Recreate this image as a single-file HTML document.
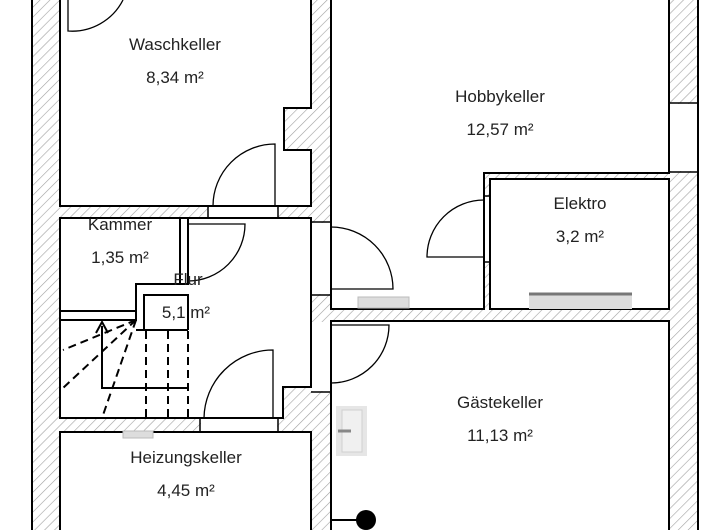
<!DOCTYPE html>
<html><head><meta charset="utf-8"><style>
html,body{margin:0;padding:0;background:#fff;}
svg{display:block;}
text{font-family:"Liberation Sans",sans-serif;font-size:17px;fill:#222;text-anchor:middle;}
</style></head><body>
<svg width="720" height="530" viewBox="0 0 720 530" xmlns="http://www.w3.org/2000/svg">
<defs>
<pattern id="h" width="7" height="7" patternUnits="userSpaceOnUse" patternTransform="rotate(45)">
<rect width="7" height="7" fill="#fff"/>
<line x1="0" y1="0" x2="0" y2="7" stroke="#a0a0a0" stroke-width="1.2"/>
</pattern>
</defs>
<rect x="32" y="-2" width="666" height="534" fill="url(#h)" stroke="#000" stroke-width="2"/>
<g fill="#fff" stroke="#000" stroke-width="2">
<polygon points="60,-3 311,-3 311,108 284,108 284,150 311,150 311,206 60,206"/>
<polygon points="331,-3 669,-3 669,173 484,173 484,309 331,309"/>
<rect x="490" y="179" width="179" height="130"/>
<rect x="60" y="218" width="120" height="93"/>
<rect x="180" y="218" width="8" height="66"/>
<polygon points="188,218 311,218 311,387 283,387 283,418 60,418 60,320 136,320 136,284 188,284"/>
<rect x="60" y="432" width="251" height="100"/>
<rect x="331" y="321" width="338" height="211"/>
</g>
<g fill="#fff" stroke="none">
<rect x="699" y="0" width="21" height="530"/>
<rect x="0" y="0" width="31" height="530"/>
</g>
<line x1="698" y1="0" x2="698" y2="530" stroke="#000" stroke-width="2"/>
<!-- openings -->
<g fill="#fff" stroke="none">
<rect x="209" y="207" width="68" height="10"/>
<rect x="312" y="223" width="18" height="71"/>
<rect x="312" y="322" width="18" height="69"/>
<rect x="201" y="419" width="76" height="12"/>
<rect x="485" y="197" width="4" height="64"/>
<rect x="670" y="104" width="27" height="67"/>
</g>
<g stroke="#000" stroke-width="1.5">
<line x1="208" y1="206" x2="208" y2="218"/><line x1="278" y1="206" x2="278" y2="218"/>
<line x1="311" y1="222" x2="331" y2="222"/><line x1="311" y1="295" x2="331" y2="295"/>
<line x1="311" y1="392" x2="331" y2="392"/>
<line x1="200" y1="418" x2="200" y2="432"/><line x1="278" y1="418" x2="278" y2="432"/>
<line x1="484" y1="196" x2="490" y2="196"/><line x1="484" y1="262" x2="490" y2="262"/>
<line x1="669" y1="103" x2="698" y2="103"/><line x1="669" y1="172" x2="698" y2="172"/>
</g>
<!-- doors -->
<g fill="none" stroke="#000" stroke-width="1.3">
<path d="M68,0 L68,31 A57,57 0 0 0 123,0"/>
<path d="M275,206 L275,144 A62,62 0 0 0 213,206"/>
<path d="M188,224 L245,224 A57,57 0 0 1 188,281"/>
<path d="M331,289 L393,289 A62,62 0 0 0 331,227"/>
<path d="M484,257 L427,257 A57,57 0 0 1 484,200"/>
<path d="M331,325 L389,325 A58,58 0 0 1 331,383"/>
<path d="M273,418 L273,350 A69,69 0 0 0 204,418"/>
</g>
<!-- stairs -->
<g fill="none" stroke="#000" stroke-width="2">
<rect x="60" y="311" width="76" height="9" fill="#fff"/>
<polyline points="144,330 144,295 188,295 188,330"/>
<line x1="136" y1="330" x2="188" y2="330"/>
<polyline points="102,326 102,388 189,388"/>
<polyline points="96,333 102,322 108,333"/>
</g>
<g stroke="#000" stroke-width="2" stroke-dasharray="8,5" fill="none">
<line x1="136" y1="320" x2="63" y2="350"/>
<line x1="136" y1="320" x2="63" y2="388"/>
<line x1="136" y1="320" x2="102" y2="418"/>
<line x1="146" y1="331" x2="146" y2="418"/>
<line x1="168" y1="331" x2="168" y2="418"/>
<line x1="188" y1="331" x2="188" y2="418"/>
</g>
<!-- fixtures -->
<rect x="358" y="297" width="51" height="11" fill="#ddd" stroke="#bbb" stroke-width="1"/>
<rect x="123" y="431" width="30" height="7" fill="#ddd" stroke="#bbb" stroke-width="1"/>
<rect x="529" y="294" width="103" height="15" fill="#ddd"/>
<line x1="529" y1="294" x2="632" y2="294" stroke="#777" stroke-width="3"/>
<rect x="336" y="406" width="31" height="50" fill="#e6e6e6"/>
<rect x="342" y="410" width="20" height="42" fill="#f0f0f0" stroke="#d0d0d0"/>
<line x1="338" y1="431" x2="351" y2="431" stroke="#888" stroke-width="3"/>
<line x1="331" y1="520" x2="360" y2="520" stroke="#000" stroke-width="2"/>
<circle cx="366" cy="520" r="10" fill="#000"/>
<!-- labels -->
<text x="175" y="50">Waschkeller</text><text x="175" y="83">8,34 m²</text>
<text x="500" y="102">Hobbykeller</text><text x="500" y="135">12,57 m²</text>
<text x="580" y="209">Elektro</text><text x="580" y="242">3,2 m²</text>
<text x="120" y="230">Kammer</text><text x="120" y="263">1,35 m²</text>
<text x="188" y="285">Flur</text><text x="186" y="318">5,1 m²</text>
<text x="500" y="408">Gästekeller</text><text x="500" y="441">11,13 m²</text>
<text x="186" y="463">Heizungskeller</text><text x="186" y="496">4,45 m²</text>
</svg>
</body></html>
